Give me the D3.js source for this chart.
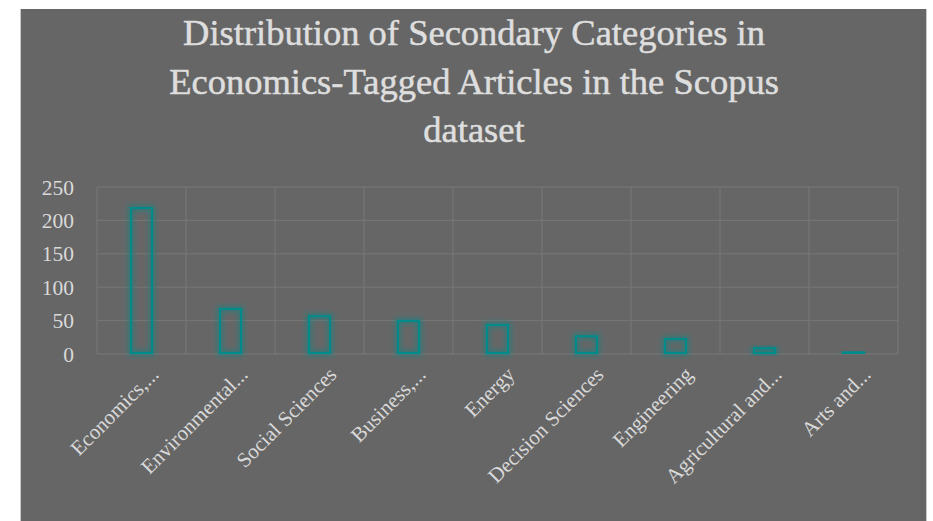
<!DOCTYPE html>
<html><head><meta charset="utf-8">
<script src="https://cdn.jsdelivr.net/npm/d3@7"></script>
<style>
html,body{margin:0;padding:0;background:#fff;}
svg{display:block;}
</style></head>
<body>
<svg id="chart" width="933" height="521"></svg>
<script>
const titleLines = ["Distribution of Secondary Categories in", "Economics-Tagged Articles in the Scopus", "dataset"];
const categories = ["Economics,...", "Environmental...", "Social Sciences", "Business,...", "Energy", "Decision Sciences", "Engineering", "Agricultural and...", "Arts and..."];
const values = [220, 69, 58, 51, 45, 28, 24, 10, 4];
const yTicks = [0, 50, 100, 150, 200, 250];

(function(){
const svg = d3.select("#chart");
const font = "'Liberation Serif', 'DejaVu Serif', serif";

svg.append("rect").attr("x", 20).attr("y", 9).attr("width", 907).attr("height", 512).attr("fill", "#c8c8c8");
svg.append("rect").attr("x", 21).attr("y", 9).attr("width", 905).attr("height", 512).attr("fill", "#666666");

const defs = svg.append("defs");
const f = defs.append("filter").attr("id", "glow").attr("x", "-60%").attr("y", "-60%").attr("width", "220%").attr("height", "220%");
f.append("feMorphology").attr("in", "SourceGraphic").attr("operator", "dilate").attr("radius", 1.5).attr("result", "d");
f.append("feGaussianBlur").attr("in", "d").attr("stdDeviation", 2.5).attr("result", "b");
const ct = f.append("feComponentTransfer").attr("in", "b").attr("result", "b2");
ct.append("feFuncA").attr("type", "linear").attr("slope", 0.5);
const m = f.append("feMerge");
m.append("feMergeNode").attr("in", "b2");
m.append("feMergeNode").attr("in", "SourceGraphic");

const pL = 97, pR = 898, pT = 187, pB = 354;
const x = d3.scaleBand().domain(categories).range([pL, pR]).paddingInner(0.74).paddingOuter(0.37);
const xb = d3.scaleBand().domain(categories).range([pL, pR]);
const y = d3.scaleLinear().domain([0, 250]).range([pB, pT]);

const grid = svg.append("g");
grid.selectAll("line.h").data(yTicks).join("line")
  .attr("x1", pL).attr("x2", pR)
  .attr("y1", d => y(d)).attr("y2", d => y(d))
  .attr("stroke", "#787878").attr("stroke-width", 1);
const bounds = categories.map(c => xb(c)).concat([pR]);
grid.selectAll("line.v").data(bounds).join("line")
  .attr("x1", d => d).attr("x2", d => d)
  .attr("y1", pT).attr("y2", pB)
  .attr("stroke", "#787878").attr("stroke-width", 1);

const yAxis = d3.axisLeft(y).tickValues(yTicks).tickSize(0).tickPadding(0);
const ya = svg.append("g").attr("transform", "translate(74,0)").call(yAxis);
ya.select(".domain").remove();
ya.selectAll("text").attr("fill", "#d9d9d9").attr("font-family", font).attr("font-size", 21.5).attr("dy", "0.33em");

svg.append("g").selectAll("rect").data(values).join("rect")
  .attr("x", (d, i) => x(categories[i]) + 1)
  .attr("width", x.bandwidth() - 2)
  .attr("y", d => y(d) + 1)
  .attr("height", d => Math.max(0.8, y(0) - y(d) - 2))
  .attr("fill", d => d < 6 ? "#008b8b" : "none")
  .attr("stroke", "#008b8b").attr("stroke-width", 2)
  .attr("filter", "url(#glow)");

const xAxis = d3.axisBottom(xb).tickSize(0).tickPadding(0);
const xa = svg.append("g").attr("transform", `translate(0,${pB + 12})`).call(xAxis);
xa.select(".domain").remove();
xa.selectAll("text")
  .attr("fill", "#d9d9d9").attr("font-family", font).attr("font-size", 21)
  .attr("text-anchor", "end").attr("x", 6).attr("y", 20).attr("dy", 0)
  .attr("transform", "rotate(-45)");

const tg = svg.append("g");
const baselines = [45, 94, 142];
titleLines.forEach((t, i) => {
  tg.append("text").attr("x", 474).attr("y", baselines[i])
    .attr("text-anchor", "middle").attr("fill", "#dedede")
    .attr("stroke", "#dedede").attr("stroke-width", 0.5)
    .attr("font-family", font).attr("font-size", 36.5).text(t);
});
})();
</script>
</body></html>
